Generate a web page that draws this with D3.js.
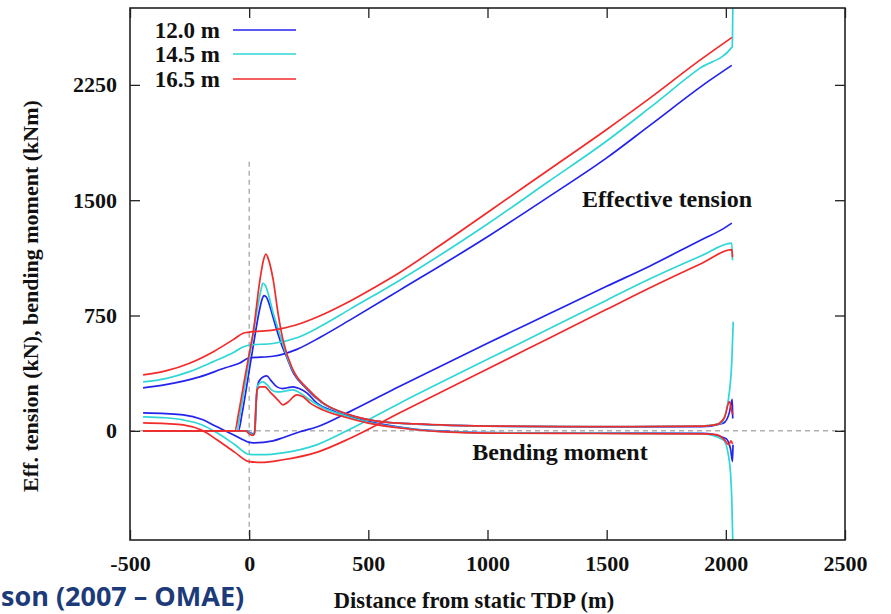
<!DOCTYPE html>
<html>
<head>
<meta charset="utf-8">
<script src="https://cdn.jsdelivr.net/npm/d3@7"></script>
<style>
  html, body { margin: 0; padding: 0; background: #fff; }
  svg { display: block; }
  .serif { font-family: "Liberation Serif", "DejaVu Serif", serif; font-weight: bold; fill: #111; }
</style>
</head>
<body>
<svg id="chart" width="891" height="614"></svg>
<script>
// Riser length cases shown in the legend
const cases = ["12.0 m", "14.5 m", "16.5 m"];
const caseColors = ["#2323ee", "#2fd6d6", "#f22a2a"];

// Axis ticks
const xTicks = [-500, 0, 500, 1000, 1500, 2000, 2500];
const yTicks = [0, 750, 1500, 2250];

// Effective tension, upper envelope [distance m, kN]
const tensionMax12 = [[-445,279],[-350,300],[-208,351],[-100,410],[-39,441],[0,474],[100,485],[200,530],[300,610],[422,720],[632,915],[1000,1262],[1250,1515],[1500,1775],[1680,1985],[1932,2279],[2025,2377]];
const tensionMax145 = [[-445,318],[-350,340],[-250,385],[-150,450],[-60,515],[-26,545],[0,558],[100,568],[200,605],[300,680],[422,790],[632,980],[1000,1345],[1250,1615],[1500,1885],[1680,2100],[1890,2357],[2025,2494],[2027,2500],[2030,2900]];
const tensionMax165 = [[-445,364],[-350,390],[-250,440],[-150,515],[-60,600],[-25,635],[0,642],[100,655],[200,690],[300,750],[400,825],[500,910],[632,1030],[800,1205],[1000,1420],[1250,1690],[1500,1960],[1680,2162],[1890,2409],[2025,2558]];

// Effective tension, lower envelope [distance m, kN]
const tensionMin12 = [[-445,117],[-350,112],[-277,104],[-200,75],[-135,26],[-80,-15],[-26,-58],[0,-75],[17,-78],[100,-65],[142,-45],[213,-6],[283,25],[422,125],[632,290],[1000,570],[1250,755],[1500,940],[1680,1071],[1900,1245],[1990,1315],[2025,1351]];
const tensionMin145 = [[-445,91],[-350,85],[-277,71],[-200,40],[-135,-13],[-60,-90],[0,-153],[50,-155],[142,-143],[283,-91],[422,10],[632,180],[1000,465],[1250,657],[1500,850],[1680,987],[1900,1140],[2025,1221],[2028,1110]];
const tensionMin165 = [[-445,52],[-350,47],[-277,39],[-200,5],[-135,-58],[-60,-140],[0,-200],[50,-205],[142,-188],[283,-140],[422,-50],[632,117],[1000,402],[1250,596],[1500,790],[1680,929],[1900,1090],[2025,1178],[2028,1130]];

// Bending moment, upper envelope [distance m, kNm]
const bendingMax12 = [[-445,0],[-45,0],[-30,110],[0,390],[20,580],[40,760],[55,860],[62,880],[72,870],[85,820],[100,740],[115,660],[136,560],[160,470],[178,400],[236,280],[303,185],[415,106],[555,59],[700,44],[850,35],[1000,30],[1300,27],[1600,26],[1900,28],[1990,50],[2015,120],[2027,205],[2029,80]];
const bendingMax145 = [[-445,0],[-52,0],[-38,110],[-10,370],[10,560],[35,800],[50,920],[57,960],[68,945],[82,880],[100,770],[118,680],[139,575],[181,398],[239,280],[306,184],[418,105],[558,58],[700,44],[850,35],[1000,30],[1300,28],[1600,27],[1900,30],[1980,50],[2010,200],[2025,450],[2031,710]];
const bendingMax165 = [[-445,0],[-60,0],[-45,110],[-20,330],[0,500],[17,643],[45,980],[60,1110],[70,1150],[80,1120],[101,980],[121,766],[142,590],[184,396],[242,279],[310,182],[422,104],[562,58],[700,45],[850,36],[1000,31],[1300,28],[1600,27],[1900,30],[1960,40],[1995,90],[2015,190],[2022,150],[2028,105]];

// Bending moment, lower envelope [distance m, kNm]
const bendingMin12 = [[-445,0],[-10,0],[5,-15],[18,-20],[24,0],[30,200],[38,310],[45,331],[60,352],[74,357],[90,330],[117,286],[140,275],[160,280],[184,286],[210,275],[242,247],[283,182],[350,130],[450,80],[550,45],[700,10],[850,-5],[1000,-12],[1300,-14],[1600,-15],[1900,-17],[2000,-50],[2020,-120],[2028,-200],[2030,-90]];
const bendingMin145 = [[-445,0],[-12,0],[3,-18],[16,-25],[23,-10],[29,180],[35,290],[45,310],[57,318],[75,300],[95,265],[117,253],[140,255],[160,262],[184,266],[210,250],[255,201],[310,150],[400,100],[500,55],[650,18],[800,-3],[1000,-12],[1300,-15],[1600,-16],[1900,-18],[1990,-60],[2015,-200],[2025,-450],[2032,-900]];
const bendingMin165 = [[-445,0],[-15,0],[0,-20],[15,-30],[22,-20],[28,150],[33,266],[45,286],[66,286],[87,253],[121,200],[142,169],[163,188],[200,234],[226,221],[255,182],[310,136],[400,90],[500,50],[650,15],[800,-5],[1000,-15],[1300,-17],[1600,-18],[1900,-20],[1960,-25],[1995,-60],[2012,-90],[2022,-65],[2028,-85]];

const seriesByCase = [
  [tensionMax12, tensionMin12, bendingMax12, bendingMin12],
  [tensionMax145, tensionMin145, bendingMax145, bendingMin145],
  [tensionMax165, tensionMin165, bendingMax165, bendingMin165]
];

const svg = d3.select("#chart");
const plotLeft = 130, plotRight = 845, plotTop = 8, plotBottom = 540;

const x = d3.scaleLinear().domain([-500, 2500]).range([plotLeft, plotRight]);
const y = d3.scaleLinear().domain([-710, 2750]).range([plotBottom, plotTop]);

svg.append("defs").append("clipPath").attr("id", "plot-clip")
  .append("rect").attr("x", plotLeft).attr("y", plotTop)
  .attr("width", plotRight - plotLeft).attr("height", plotBottom - plotTop);

// Reference lines at the static touchdown point and zero level
svg.append("line")
  .attr("x1", x(-500)).attr("x2", x(2500)).attr("y1", y(0)).attr("y2", y(0))
  .attr("stroke", "#8a8a8a").attr("stroke-width", 1).attr("stroke-dasharray", "5,4");
svg.append("line")
  .attr("x1", x(0)).attr("x2", x(0)).attr("y1", y(1750)).attr("y2", y(-710))
  .attr("stroke", "#8a8a8a").attr("stroke-width", 1).attr("stroke-dasharray", "5,4");

// Curves
const line = d3.line().x(d => x(d[0])).y(d => y(d[1])).curve(d3.curveMonotoneX);
const plot = svg.append("g").attr("clip-path", "url(#plot-clip)");
seriesByCase.forEach((group, i) => {
  group.forEach(series => {
    plot.append("path").datum(series)
      .attr("d", line)
      .attr("fill", "none")
      .attr("stroke", caseColors[i])
      .attr("stroke-width", 1.7)
      .attr("stroke-linejoin", "round");
  });
});

// Axes with inward ticks on all four sides
const fontSize = 22;
const plainNumber = d => String(d);
const gx = svg.append("g").attr("transform", `translate(0,${plotBottom})`)
  .call(d3.axisBottom(x).tickValues(xTicks).tickSize(-10).tickPadding(15).tickFormat(plainNumber));
const gxTop = svg.append("g").attr("transform", `translate(0,${plotTop})`)
  .call(d3.axisTop(x).tickValues(xTicks).tickSize(-10).tickFormat(""));
const gy = svg.append("g").attr("transform", `translate(${plotLeft},0)`)
  .call(d3.axisLeft(y).tickValues(yTicks).tickSize(-10).tickPadding(13).tickFormat(plainNumber));
const gyRight = svg.append("g").attr("transform", `translate(${plotRight},0)`)
  .call(d3.axisRight(y).tickValues(yTicks).tickSize(-10).tickFormat(""));

[gx, gxTop, gy, gyRight].forEach(g => {
  g.select(".domain").remove();
  g.selectAll(".tick line").attr("stroke", "#222").attr("stroke-width", 1.3);
  g.selectAll("text")
    .attr("class", "serif")
    .style("font-size", fontSize + "px")
    .attr("fill", "#111");
});

svg.append("rect")
  .attr("x", plotLeft).attr("y", plotTop).attr("width", plotRight - plotLeft).attr("height", plotBottom - plotTop)
  .attr("fill", "none").attr("stroke", "#222").attr("stroke-width", 1.6);

// Axis titles
svg.append("text").attr("class", "serif")
  .attr("x", 474).attr("y", 608)
  .attr("text-anchor", "middle").style("font-size", "22.5px")
  .text("Distance from static TDP (m)");
svg.append("text").attr("class", "serif")
  .attr("transform", "translate(38,296) rotate(-90)")
  .attr("text-anchor", "middle").style("font-size", fontSize + "px")
  .text("Eff. tension (kN), bending moment (kNm)");

// Curve group annotations
svg.append("text").attr("class", "serif")
  .attr("x", 667).attr("y", 207)
  .attr("text-anchor", "middle").style("font-size", "24px")
  .text("Effective tension");
svg.append("text").attr("class", "serif")
  .attr("x", 560).attr("y", 460)
  .attr("text-anchor", "middle").style("font-size", "24px")
  .text("Bending moment");

// Legend
const legendRows = [30, 54, 79];
cases.forEach((c, i) => {
  svg.append("line")
    .attr("x1", 233).attr("x2", 296)
    .attr("y1", legendRows[i]).attr("y2", legendRows[i])
    .attr("stroke", caseColors[i]).attr("stroke-width", 1.7);
  svg.append("text").attr("class", "serif")
    .attr("x", 220).attr("y", legendRows[i] + 7.5)
    .attr("text-anchor", "end").style("font-size", "23px")
    .text(c);
});

// Source caption along the bottom edge
svg.append("text")
  .attr("x", 1).attr("y", 606)
  .style("font-family", "'Open Sans', 'Noto Sans', sans-serif")
  .style("font-weight", "bold").style("font-size", "27px")
  .attr("fill", "#1d3b78")
  .text("son (2007 – OMAE)");
</script>
</body>
</html>
